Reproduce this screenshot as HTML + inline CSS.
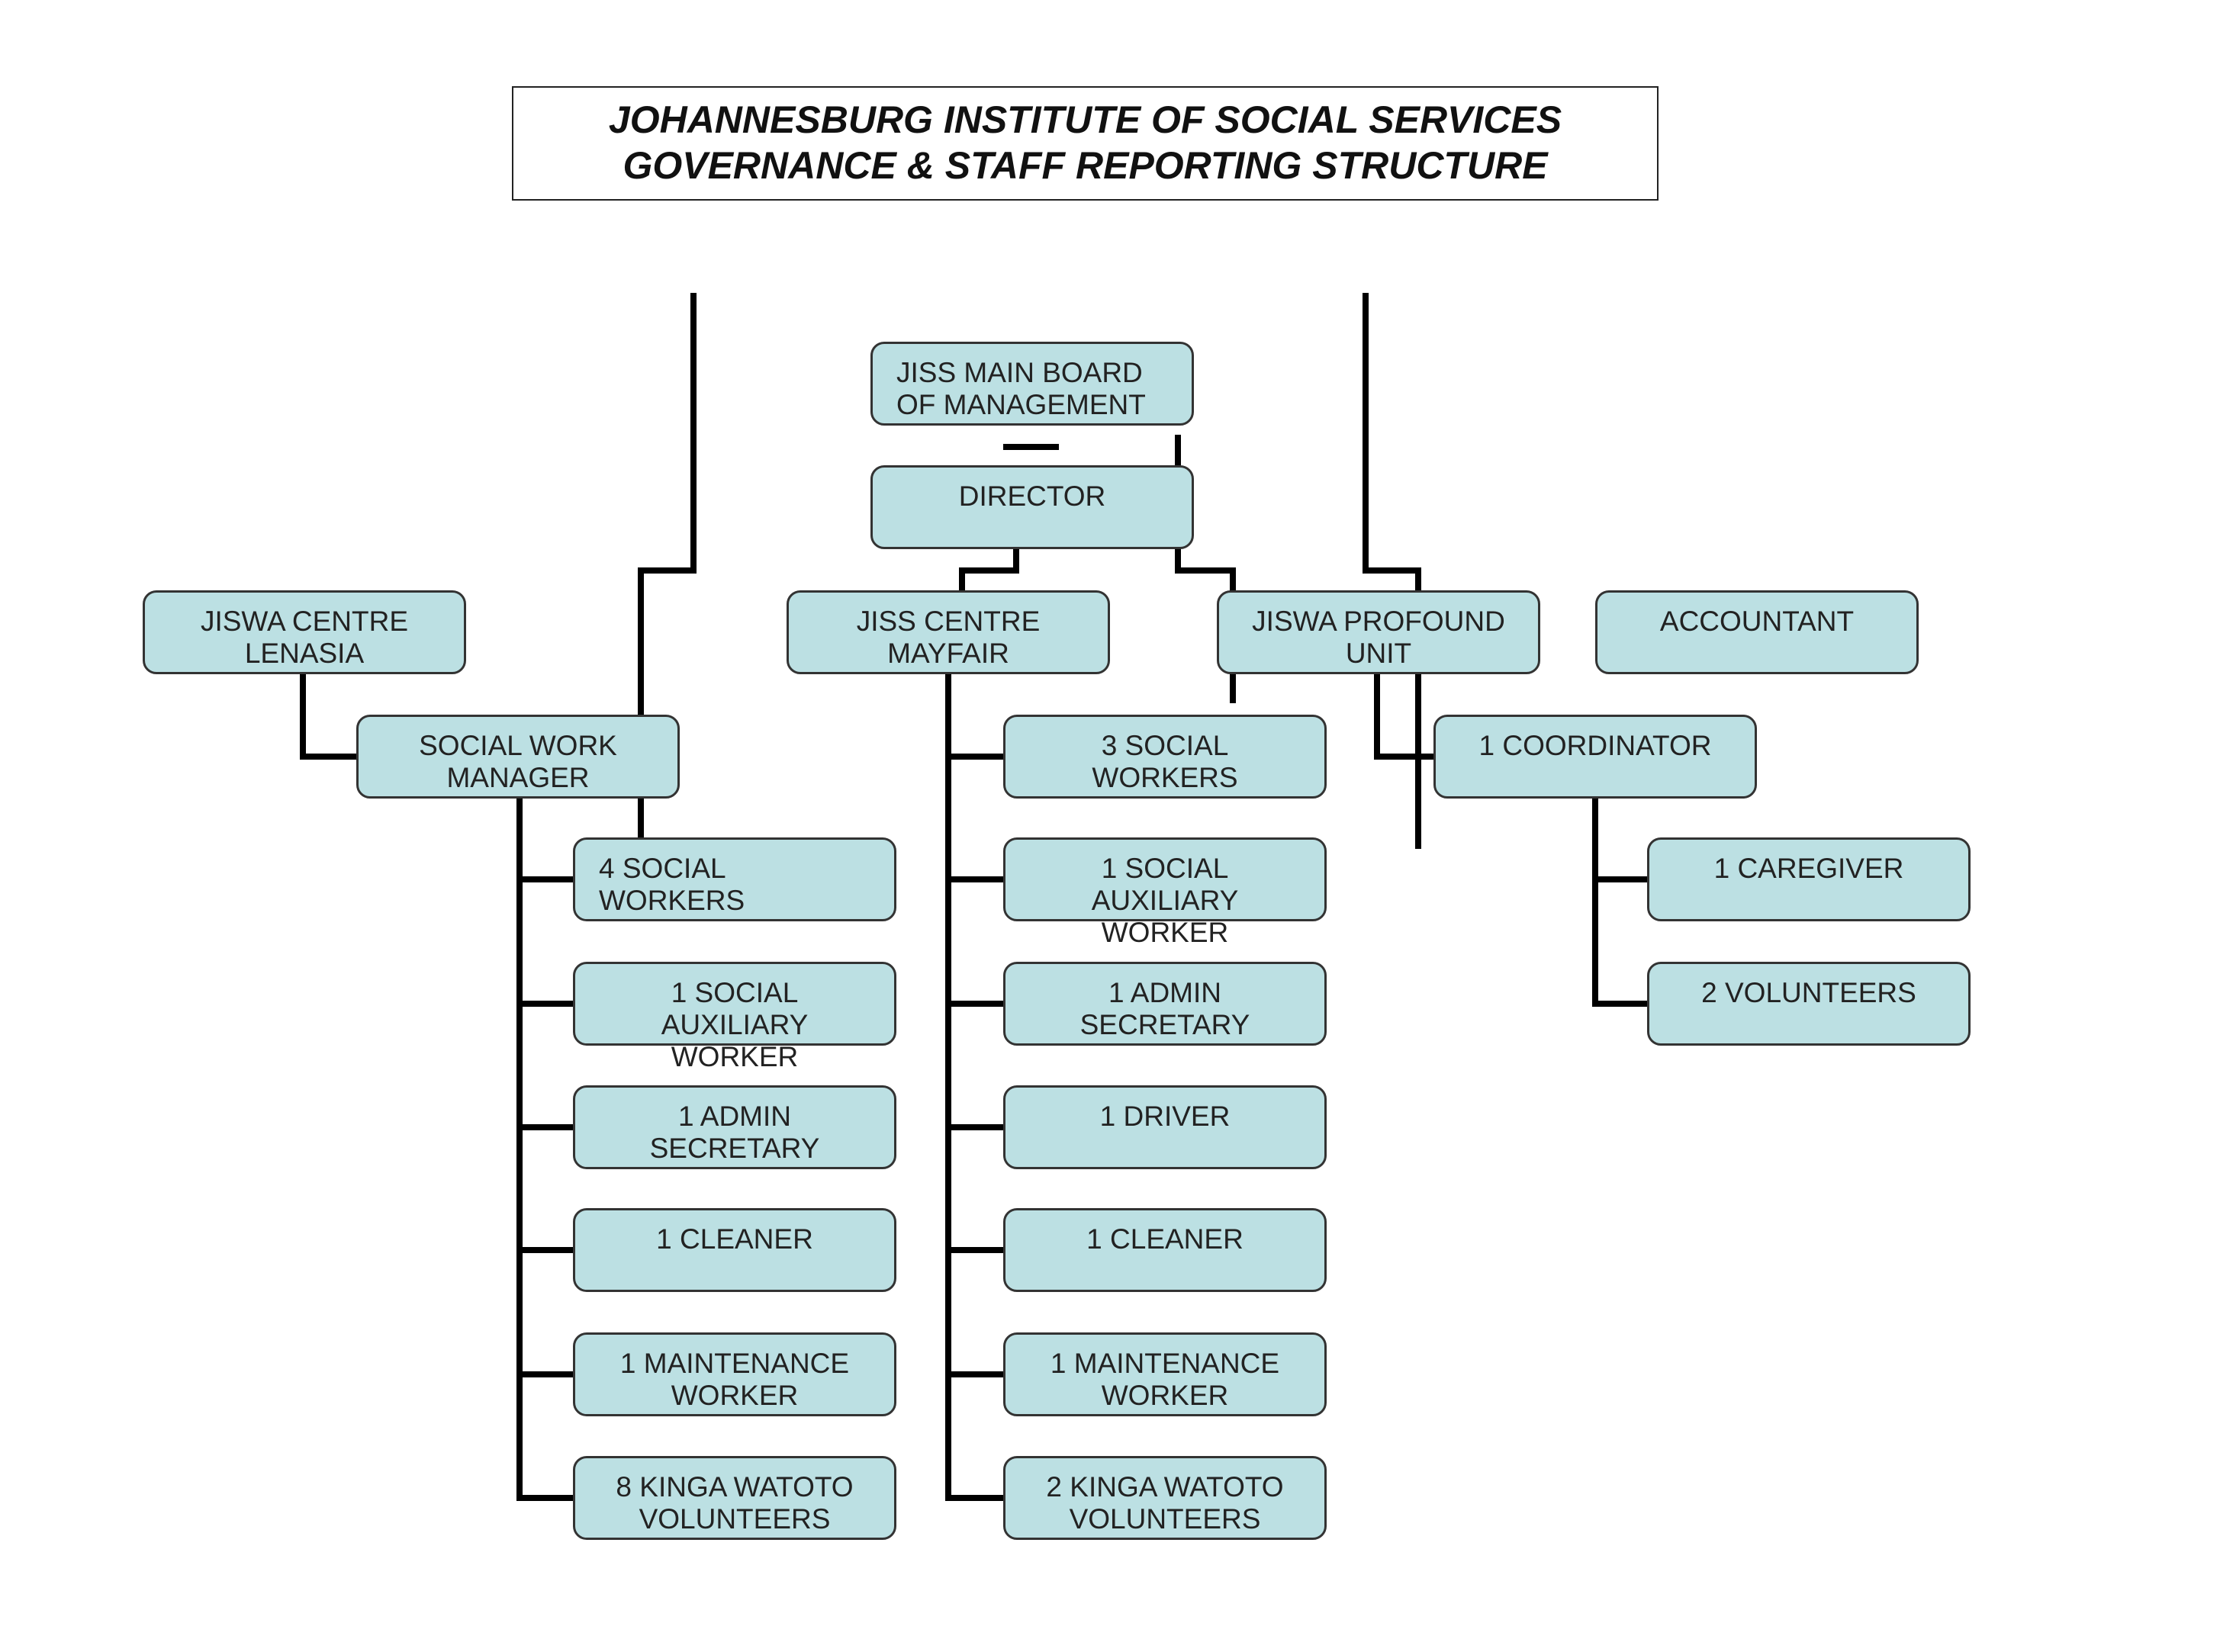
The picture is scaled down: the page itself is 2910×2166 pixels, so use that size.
<!DOCTYPE html>
<html><head><meta charset="utf-8"><style>
body{margin:0;width:2910px;height:2166px;background:#fff;position:relative;overflow:hidden;font-family:"Liberation Sans",Arial,sans-serif}
.t{position:absolute;left:671px;top:113px;width:1503px;height:150px;border:2px solid #222;text-align:center;font-weight:bold;font-style:italic;font-size:50px;line-height:60px;padding-top:12px;box-sizing:border-box;color:#111}
.b{position:absolute;width:424px;height:110px;box-sizing:border-box;border:3px solid #333;border-radius:18px;background:#bce0e3;font-size:37px;line-height:42px;text-align:center;padding-top:17px;color:#222;white-space:nowrap}
.l{text-align:left;padding-left:31px}
.h,.v{position:absolute;background:#000}
.h{height:8px}.v{width:8px}
</style></head><body>
<div class="t">JOHANNESBURG INSTITUTE OF SOCIAL SERVICES<br>GOVERNANCE &amp; STAFF REPORTING STRUCTURE</div>

<div class="v" style="left:905px;top:384px;height:368px"></div>
<div class="h" style="left:836px;top:744px;width:77px"></div>
<div class="v" style="left:836px;top:744px;height:195px"></div>
<div class="v" style="left:836px;top:1045px;height:55px"></div>

<div class="v" style="left:1786px;top:384px;height:368px"></div>
<div class="h" style="left:1786px;top:744px;width:77px"></div>
<div class="v" style="left:1855px;top:744px;height:32px"></div>
<div class="v" style="left:1855px;top:879px;height:234px"></div>

<div class="v" style="left:1328px;top:718px;height:34px"></div>
<div class="h" style="left:1257px;top:744px;width:79px"></div>
<div class="v" style="left:1257px;top:744px;height:32px"></div>

<div class="v" style="left:1540px;top:718px;height:34px"></div>
<div class="h" style="left:1540px;top:744px;width:80px"></div>
<div class="v" style="left:1612px;top:744px;height:32px"></div>
<div class="v" style="left:1612px;top:879px;height:43px"></div>

<div class="h" style="left:1315px;top:582px;width:73px"></div>
<div class="v" style="left:1540px;top:570px;height:42px"></div>

<div class="v" style="left:393px;top:879px;height:117px"></div>
<div class="h" style="left:393px;top:988px;width:76px"></div>

<div class="v" style="left:677px;top:1045px;height:923px"></div>
<div class="h" style="left:677px;top:1149px;width:76px"></div>
<div class="h" style="left:677px;top:1312px;width:76px"></div>
<div class="h" style="left:677px;top:1474px;width:76px"></div>
<div class="h" style="left:677px;top:1635px;width:76px"></div>
<div class="h" style="left:677px;top:1798px;width:76px"></div>
<div class="h" style="left:677px;top:1960px;width:76px"></div>

<div class="v" style="left:1239px;top:879px;height:1089px"></div>
<div class="h" style="left:1239px;top:988px;width:78px"></div>
<div class="h" style="left:1239px;top:1149px;width:78px"></div>
<div class="h" style="left:1239px;top:1312px;width:78px"></div>
<div class="h" style="left:1239px;top:1474px;width:78px"></div>
<div class="h" style="left:1239px;top:1635px;width:78px"></div>
<div class="h" style="left:1239px;top:1798px;width:78px"></div>
<div class="h" style="left:1239px;top:1960px;width:78px"></div>

<div class="v" style="left:1801px;top:879px;height:117px"></div>
<div class="h" style="left:1801px;top:988px;width:80px"></div>

<div class="v" style="left:2087px;top:1045px;height:274px"></div>
<div class="h" style="left:2087px;top:1149px;width:74px"></div>
<div class="h" style="left:2087px;top:1312px;width:74px"></div>

<div class="b l" style="left:1141px;top:448px">JISS MAIN BOARD<br>OF MANAGEMENT</div>
<div class="b" style="left:1141px;top:610px">DIRECTOR</div>
<div class="b" style="left:187px;top:774px">JISWA CENTRE<br>LENASIA</div>
<div class="b" style="left:1031px;top:774px">JISS CENTRE<br>MAYFAIR</div>
<div class="b" style="left:1595px;top:774px">JISWA PROFOUND<br>UNIT</div>
<div class="b" style="left:2091px;top:774px">ACCOUNTANT</div>
<div class="b" style="left:467px;top:937px">SOCIAL WORK<br>MANAGER</div>
<div class="b" style="left:1315px;top:937px">3 SOCIAL<br>WORKERS</div>
<div class="b" style="left:1879px;top:937px">1 COORDINATOR</div>

<div class="b l" style="left:751px;top:1098px">4 SOCIAL<br>WORKERS</div>
<div class="b" style="left:751px;top:1261px">1 SOCIAL<br>AUXILIARY<br>WORKER</div>
<div class="b" style="left:751px;top:1423px">1 ADMIN<br>SECRETARY</div>
<div class="b" style="left:751px;top:1584px">1 CLEANER</div>
<div class="b" style="left:751px;top:1747px">1 MAINTENANCE<br>WORKER</div>
<div class="b" style="left:751px;top:1909px">8 KINGA WATOTO<br>VOLUNTEERS</div>

<div class="b" style="left:1315px;top:1098px">1 SOCIAL<br>AUXILIARY<br>WORKER</div>
<div class="b" style="left:1315px;top:1261px">1 ADMIN<br>SECRETARY</div>
<div class="b" style="left:1315px;top:1423px">1 DRIVER</div>
<div class="b" style="left:1315px;top:1584px">1 CLEANER</div>
<div class="b" style="left:1315px;top:1747px">1 MAINTENANCE<br>WORKER</div>
<div class="b" style="left:1315px;top:1909px">2 KINGA WATOTO<br>VOLUNTEERS</div>

<div class="b" style="left:2159px;top:1098px">1 CAREGIVER</div>
<div class="b" style="left:2159px;top:1261px">2 VOLUNTEERS</div>
</body></html>
